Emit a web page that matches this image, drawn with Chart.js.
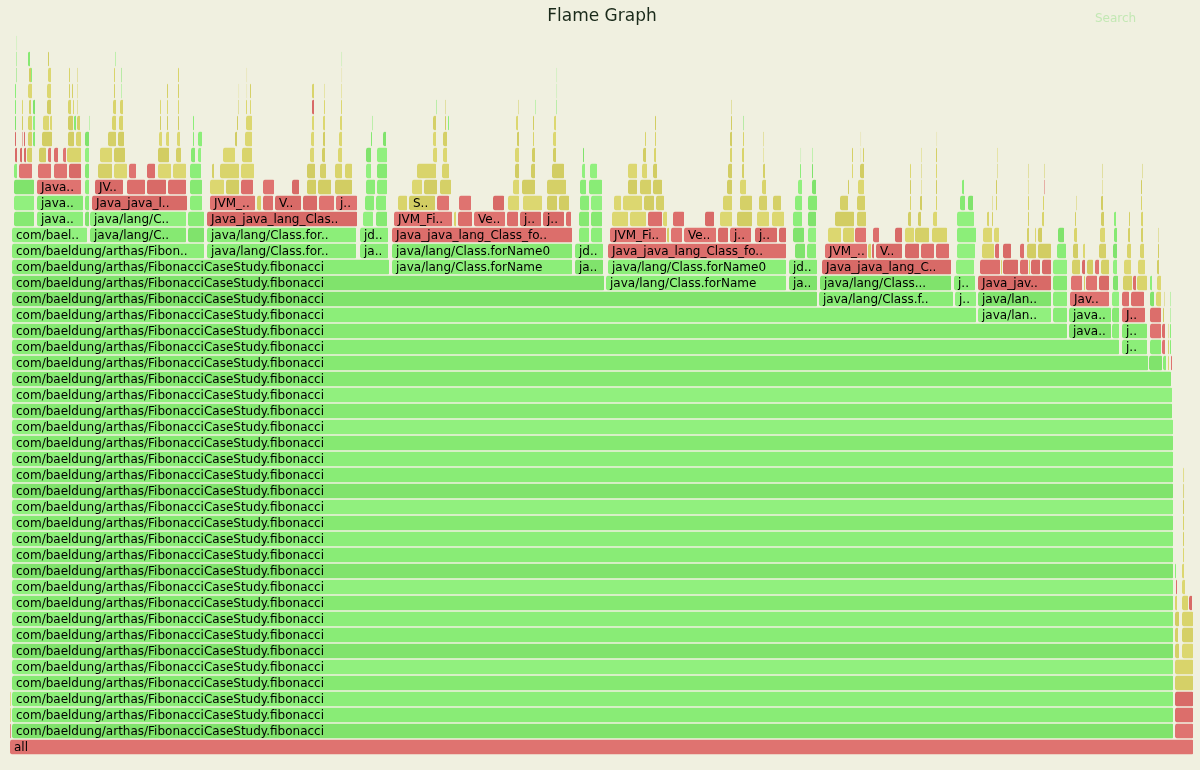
<!DOCTYPE html>
<html><head><meta charset="utf-8">
<script src="https://cdn.jsdelivr.net/npm/chart.js@4/dist/chart.umd.min.js"></script>
<style>html,body{margin:0;padding:0;background:#f0f0e0;}#wrap{width:1200px;height:770px;}</style>
</head><body><div id="wrap"><canvas id="c" width="1200" height="770"></canvas></div>
<script>
const chartTitle = 'Flame Graph';
const searchLabel = 'Search';
const totalSamples = 1184;
const maxDepth = 45;
const functionNames = [
  'all',
  'com/baeldung/arthas/FibonacciCaseStudy.fibonacci',
  'java/lang/Class.forName',
  'java/lang/Class.forName0',
  'Java_java_lang_Class_forName0',
  'java/lang/ClassLoader.loadClass',
  'jdk/internal/loader/ClassLoaders$AppClassLoader.loadClass',
  'JVM_FindClassFromCaller',
  'VerifyFixClassname',
  'jni_GetStringUTFLength',
  'jni_GetStringUTFRegion',
  'SystemDictionary::resolve_or_fail'
];
// frame kinds: J = Java, C = C++, N = native
// end sample of the fibonacci frame at depth 1..32 (each starts at sample 2)
const fibChainEnd = [1164,1164,1164,1164,1164,1164,1164,1164,1164,1164,1164,1164,1164,1164,1164,1164,1164,1164,1164,1164,1163,1163,1162,1139,1110,1058,967,808,595,380,195,78];

// [depth, startSample, endSample, kind, nameIndex(-1 = unreadable)]
const rootFrames = [
  [0,0,1184,'N',0],
  [1,0,1.5,'N',-1],[2,0,1.5,'C',-1],[3,0,1.5,'C',-1]
];
const otherThreadFrames = [
  [1,1165,1184,'N',-1],[2,1165,1184,'N',-1],[3,1165,1184,'N',-1],
  [4,1165,1184,'C',-1],[5,1165,1184,'C',-1],
  [6,1165,1170,'C',-1],[6,1172,1184,'C',-1],
  [7,1165,1169,'C',-1],[7,1172,1184,'C',-1],
  [8,1165,1170,'C',-1],[8,1172,1184,'C',-1],
  [9,1165,1168,'C',-1],[9,1172,1179,'C',-1],[9,1179,1183,'N',-1],
  [10,1166,1168,'N',-1],[10,1172,1176,'C',-1],
  [11,1165,1167,'J',-1],[11,1172,1175,'C',-1],
  [12,1173,1175,'C',-1],[13,1173,1175,'C',-1],[14,1173,1175,'C',-1],[15,1173,1175,'C',-1],[16,1173,1174.5,'C',-1],[17,1173,1174.5,'C',-1]
];
const leftColumnFrames = [
  [33,4,25,'J',1],[34,4,25,'J',1],[35,4,25,'J',1],
  [36,4,8,'J',-1],[36,9,23,'N',-1],
  [37,5,8,'N',-1],[37,10,13,'N',-1],[37,14,17,'N',-1],[37,17,23,'C',-1],
  [38,5,7,'N',-1],[38,12,13,'N',-1],[38,14,16,'N',-1],[38,18,23,'C',-1],[38,23,26,'J',-1],
  [39,5,7,'J',-1],[39,12,14,'C',-1],[39,18,23,'C',-1],[39,23,26,'J',-1],
  [40,5,7,'J',-1],[40,12,14,'C',-1],[40,19,22,'C',-1],[40,23,26,'J',-1],
  [41,5,7,'J',-1],[41,18,23,'C',-1],
  [42,6,7,'J',-1],[42,19,22,'C',-1],[42,21,23,'J',-1],
  [43,6,7,'J',-1],[43,18,21,'J',-1],
  [44,6.5,7.5,'J',-1]
];
const towerA = [
  [33,27,74,'J',2],[33,75,80,'J',5],
  [34,27,74,'J',3],[34,75,80,'J',6],
  [35,27,72,'N',4],[35,75,80,'J',-1],
  [36,28,42,'N',-1],[36,44,58,'N',-1],[36,59,72,'N',-1],[36,75,80,'J',-1],
  [37,29,37,'C',-1],[37,38,42,'N',-1],[37,44,49,'N',-1],[37,53,57,'N',-1],[37,57,72,'C',-1],[37,75,80,'J',-1],
  [38,32,43,'C',-1],[38,58,65,'C',-1],[38,66,72,'C',-1],[38,75,80,'J',-1],
  [39,33,40,'C',-1],[39,40,43,'C',-1],[39,58,64,'C',-1],[39,64,67,'J',-1],[39,67,71,'C',-1],[39,79,80,'J',-1],
  [40,37,42,'C',-1],[40,58,62,'C',-1],[40,63,65,'C',-1],[40,67,68,'C',-1],
  [41,37,42,'C',-1],[41,59,61,'C',-1],[41,62,64,'C',-1],[41,67,68,'C',-1],
  [42,38,42,'C',-1],[42,59,61,'C',-1],[42,67,68,'C',-1],
  [43,38,40,'C',-1]
];
const towerB = [
  [32,80,177,'J',2],[32,178,195,'J',5],
  [33,80,177,'J',3],[33,178,195,'J',6],
  [34,82,178,'N',4],[34,180,193,'J',-1],
  [35,85,114,'N',7],[35,117,136,'N',-1],[35,137,157,'N',-1],[35,158,177,'N',-1],[35,180,193,'J',-1],
  [36,88,103,'C',-1],[36,104,118,'C',-1],[36,119,127,'N',-1],[36,137,146,'N',-1],[36,148,162,'C',-1],[36,163,177,'C',-1],[36,180,192,'J',-1],
  [37,90,103,'C',-1],[37,104,116,'C',-1],[37,148,160,'C',-1],[37,166,172,'C',-1],[37,181,186,'J',-1],[37,188,192,'J',-1],
  [38,98,107,'C',-1],[38,108,115,'C',-1],[38,149,153,'C',-1],[38,156,160,'C',-1],[38,167,171,'C',-1],[38,183,185,'J',-1],[38,188,193,'J',-1],
  [39,102,107,'C',-1],[39,109,114,'C',-1],[39,150,152,'C',-1],[39,157,159,'C',-1],[39,168,170,'C',-1],[39,183,185,'J',-1],
  [40,103,107,'C',-1],[40,110,114,'C',-1],[40,150,152,'C',-1],[40,157,159,'C',-1],[40,168,170,'C',-1],
  [41,104,106,'C',-1],[41,111,112,'J',-1],[41,157,159,'C',-1],[41,168,170,'C',-1],
  [42,104,106,'C',-1],[42,111,112,'J',-1],[42,168,170,'C',-1],
  [43,105,106,'J',-1]
];
const towerC = [
  [31,197,347,'J',2],[31,350,379,'J',5],
  [32,197,347,'J',3],[32,350,379,'J',6],
  [33,197,348,'N',4],[33,353,364,'J',-1],[33,366,378,'J',-1],
  [34,200,246,'N',7],[34,247,252,'C',-1],[34,253,264,'N',-1],[34,265,292,'N',8],[34,293,308,'N',-1],[34,309,325,'N',-1],[34,326,348,'N',9],[34,355,365,'J',-1],[34,366,377,'J',-1],
  [35,200,215,'C',-1],[35,216,230,'C',-1],[35,231,244,'N',-1],[35,253,265,'N',-1],[35,282,290,'N',-1],[35,297,307,'C',-1],[35,308,322,'C',-1],[35,325,343,'C',-1],[35,356,366,'J',-1],[35,367,378,'J',-1],
  [36,202,205,'C',-1],[36,210,230,'C',-1],[36,231,245,'C',-1],[36,297,306,'C',-1],[36,310,317,'C',-1],[36,325,333,'C',-1],[36,335,343,'C',-1],[36,356,362,'J',-1],[36,367,378,'J',-1],
  [37,213,226,'C',-1],[37,232,243,'C',-1],[37,300,305,'C',-1],[37,312,316,'C',-1],[37,328,333,'C',-1],[37,356,362,'J',-1],[37,367,378,'J',-1],
  [38,225,228,'C',-1],[38,235,243,'C',-1],[38,301,305,'C',-1],[38,313,316,'C',-1],[38,329,333,'C',-1],[38,361,363,'J',-1],[38,373,377,'J',-1],
  [39,227,229,'C',-1],[39,236,243,'C',-1],[39,302,305,'C',-1],[39,313,316,'C',-1],[39,330,333,'C',-1],[39,362,363,'J',-1],
  [40,228,229,'C',-1],[40,236,238,'C',-1],[40,240,242,'C',-1],[40,302,305,'N',-1],[40,314,316,'C',-1],[40,331,333,'C',-1],
  [41,228.5,229.5,'C',-1],[41,236.5,237.5,'C',-1],[41,240,242,'C',-1],[41,302,305,'C',-1],[41,314,315,'C',-1],[41,331,332,'C',-1],
  [42,236.5,237.5,'C',-1],[42,331.5,332.5,'C',-1],
  [43,331.5,332.5,'J',-1]
];
const towerD = [
  [30,382,563,'J',2],[30,565,594,'J',5],
  [31,382,563,'J',3],[31,565,594,'J',6],
  [32,382,563,'N',4],[32,569,580,'J',-1],[32,581,593,'J',-1],
  [33,384,443,'N',7],[33,444,447,'C',-1],[33,448,463,'N',-1],[33,464,496,'N',8],[33,497,509,'N',-1],[33,510,532,'N',9],[33,533,555,'N',10],[33,556,562,'N',-1],[33,569,580,'J',-1],[33,581,593,'J',-1],
  [34,388,398,'C',-1],[34,399,426,'C',11],[34,427,440,'N',-1],[34,449,462,'N',-1],[34,483,495,'N',-1],[34,498,510,'C',-1],[34,513,533,'C',-1],[34,537,548,'C',-1],[34,549,560,'C',-1],[34,570,580,'J',-1],[34,581,593,'J',-1],
  [35,402,413,'C',-1],[35,414,428,'C',-1],[35,430,442,'C',-1],[35,503,510,'C',-1],[35,512,526,'C',-1],[35,537,557,'C',-1],[35,570,577,'J',-1],[35,579,593,'J',-1],
  [36,407,427,'C',-1],[36,432,440,'C',-1],[36,505,510,'C',-1],[36,521,526,'C',-1],[36,542,555,'C',-1],[36,572,576,'J',-1],[36,580,588,'J',-1],
  [37,423,428,'C',-1],[37,433,438,'C',-1],[37,505,510,'C',-1],[37,522,526,'C',-1],[37,543,547,'C',-1],[37,573,575,'J',-1],
  [38,423,427,'C',-1],[38,433,438,'C',-1],[38,507,510,'C',-1],[38,523,525,'C',-1],[38,543,547,'C',-1],
  [39,423,427,'C',-1],[39,435,437,'C',-1],[39,438,440,'J',-1],[39,506,509,'C',-1],[39,523,525,'C',-1],[39,544,547,'C',-1],
  [40,426,427,'J',-1],[40,435,436,'C',-1],[40,508,509,'C',-1],[40,525,526,'J',-1],[40,546,547,'J',-1],
  [41,546.5,547.5,'J',-1],[42,546.5,547.5,'J',-1]
];
const towerE = [
  [29,596,777,'J',2],[29,779,808,'J',5],
  [30,598,777,'J',3],[30,779,808,'J',6],
  [31,598,777,'N',4],[31,785,796,'J',-1],[31,797,807,'J',-1],
  [32,600,657,'N',7],[32,657,660,'C',-1],[32,661,673,'N',-1],[32,674,707,'N',8],[32,708,719,'N',-1],[32,720,742,'N',9],[32,745,768,'N',10],[32,769,777,'N',-1],[32,783,795,'J',-1],[32,798,807,'J',-1],
  [33,602,619,'C',-1],[33,620,637,'C',-1],[33,638,653,'N',-1],[33,653,658,'C',-1],[33,663,675,'N',-1],[33,695,705,'N',-1],[33,710,723,'C',-1],[33,727,743,'C',-1],[33,747,760,'C',-1],[33,762,775,'C',-1],[33,783,793,'J',-1],[33,798,807,'J',-1],
  [34,604,612,'C',-1],[34,613,633,'C',-1],[34,634,645,'C',-1],[34,646,655,'C',-1],[34,713,723,'C',-1],[34,730,743,'C',-1],[34,749,758,'C',-1],[34,763,772,'C',-1],[34,785,793,'J',-1],[34,798,808,'J',-1],
  [35,618,628,'C',-1],[35,630,642,'C',-1],[35,643,653,'C',-1],[35,717,723,'C',-1],[35,730,737,'C',-1],[35,752,757,'C',-1],[35,788,793,'J',-1],[35,802,807,'J',-1],
  [36,618,628,'C',-1],[36,632,638,'C',-1],[36,643,648,'C',-1],[36,718,723,'C',-1],[36,732,735,'C',-1],[36,753,756,'C',-1],[36,790,792,'J',-1],[36,802,804,'J',-1],
  [37,633,637,'C',-1],[37,644,647,'C',-1],[37,720,723,'C',-1],[37,732,735,'C',-1],[37,753,754,'C',-1],[37,790.5,791.5,'J',-1],[37,802,803,'J',-1],
  [38,635,637,'C',-1],[38,645,647,'C',-1],[38,720,723,'C',-1],[38,733,735,'C',-1],[38,753,754,'C',-1],
  [39,645,647,'C',-1],[39,721,723,'C',-1],[39,733,734,'J',-1],
  [40,721,722,'C',-1]
];
const towerF = [
  [28,809,944,'J',2],[28,945,967,'J',5],
  [29,810,942,'J',3],[29,944,966,'J',6],
  [30,812,942,'N',4],[30,946,965,'J',-1],
  [31,815,858,'N',7],[31,858,862,'C',-1],[31,862,865,'N',-1],[31,866,893,'N',8],[31,895,910,'N',-1],[31,911,925,'N',-1],[31,926,940,'N',-1],[31,947,966,'J',-1],
  [32,818,832,'C',-1],[32,833,845,'C',-1],[32,845,857,'N',-1],[32,863,870,'N',-1],[32,885,893,'N',-1],[32,895,905,'C',-1],[32,905,920,'C',-1],[32,922,938,'C',-1],[32,947,967,'J',-1],
  [33,825,845,'C',-1],[33,847,857,'C',-1],[33,898,902,'C',-1],[33,908,912,'C',-1],[33,923,928,'C',-1],[33,947,965,'J',-1],
  [34,830,839,'C',-1],[34,847,856,'C',-1],[34,900,902,'C',-1],[34,910,913,'C',-1],[34,926,928,'C',-1],[34,950,956,'J',-1],[34,958,964,'J',-1],
  [35,838,840,'C',-1],[35,848,855,'C',-1],[35,900,902,'C',-1],[35,911,912,'C',-1],[35,926,928,'C',-1],[35,952,955,'J',-1],
  [36,842,844,'C',-1],[36,850,855,'C',-1],[36,900,902,'C',-1],[36,911,912,'C',-1],[36,926,928,'C',-1],
  [37,842,844,'C',-1],[37,850.5,851.5,'C',-1],[37,853,855,'C',-1],[37,911,912,'C',-1],[37,926,928,'C',-1],
  [38,850.5,851.5,'C',-1],[38,926.5,927.5,'C',-1]
];
const towerG = [
  [27,968,1042,'J',2],[28,968,1042,'J',3],[29,968,1042,'N',4],
  [27,1043,1058,'J',-1],[28,1043,1058,'J',-1],[29,1043,1058,'J',-1],[30,1043,1058,'J',-1],[31,1047,1057,'J',-1],[32,1048,1055,'J',-1],
  [30,970,991,'N',-1],[30,991,993,'C',-1],[30,993,1009,'N',-1],[30,1010,1019,'N',-1],[30,1019,1021,'C',-1],[30,1021,1031,'N',-1],[30,1032,1042,'N',-1],
  [31,972,985,'C',-1],[31,985,990,'N',-1],[31,993,1002,'N',-1],[31,1010,1015,'N',-1],[31,1017,1027,'C',-1],[31,1028,1042,'C',-1],
  [32,973,983,'C',-1],[32,984,990,'C',-1],[32,1017,1020,'C',-1],[32,1025,1027,'C',-1],[32,1028,1033,'C',-1],
  [33,977,980,'C',-1],[33,982,984,'C',-1],[33,1018,1020,'C',-1],[33,1032,1035,'C',-1],
  [34,982,983,'C',-1],[34,986,988,'C',-1],[34,1018,1020,'C',-1],[34,1033,1035,'C',-1],
  [35,986,988,'C',-1],[35,1018,1019,'C',-1],[35,1034,1035,'N',-1],
  [36,987,988,'C',-1],[36,1018,1019,'C',-1],[36,1034,1035,'C',-1],
  [37,987,988,'C',-1]
];
const towerH = [
  [26,1059,1102,'J',2],[27,1059,1102,'J',3],[28,1060,1100,'N',4],
  [26,1102,1110,'J',-1],[27,1102,1110,'J',-1],[28,1102,1110,'J',-1],
  [29,1103,1109,'J',-1],[30,1103,1108,'J',-1],[31,1103,1108,'J',-1],[32,1104,1108,'J',-1],[33,1104,1107,'J',-1],
  [29,1061,1073,'N',-1],[29,1074,1076,'C',-1],[29,1076,1088,'N',-1],[29,1089,1100,'N',-1],
  [30,1062,1071,'C',-1],[30,1072,1076,'N',-1],[30,1077,1084,'C',-1],[30,1085,1090,'N',-1],[30,1091,1100,'C',-1],
  [31,1063,1069,'C',-1],[31,1073,1076,'C',-1],[31,1089,1097,'C',-1],
  [32,1064,1068,'C',-1],[32,1090,1096,'C',-1],
  [33,1065,1067,'C',-1],[33,1091,1095,'C',-1],
  [34,1066,1067,'C',-1],[34,1091,1094,'C',-1],
  [35,1092,1093,'C',-1],[36,1092,1093,'C',-1]
];
const towerI = [
  [25,1112,1138,'J',2],[26,1112,1138,'J',3],[27,1112,1136,'N',4],
  [28,1112,1120,'N',-1],[28,1121,1135,'N',-1],
  [29,1113,1123,'C',-1],[29,1123,1127,'N',-1],[29,1127,1138,'C',-1],
  [30,1114,1122,'C',-1],[30,1128,1136,'C',-1],
  [31,1117,1122,'C',-1],[31,1130,1135,'C',-1],
  [32,1118,1121,'C',-1],[32,1131,1134,'C',-1],
  [33,1119,1121,'C',-1],[33,1131,1134,'C',-1],
  [34,1131,1133,'C',-1],[35,1131,1133,'C',-1],[36,1132,1133,'C',-1]
];
const towerJK = [
  [24,1139,1153,'J',-1],[25,1140,1152,'J',-1],[26,1140,1152,'N',-1],[27,1140,1152,'N',-1],
  [28,1140,1145,'J',-1],[28,1146,1152,'C',-1],
  [29,1140,1143,'J',-1],[29,1147,1152,'C',-1],
  [30,1147,1150,'C',-1],[31,1148,1150,'C',-1],[32,1148,1149,'C',-1],
  [24,1153,1157,'J',-1],[25,1152,1156,'N',-1],[26,1152,1156,'N',-1],[27,1153,1155,'C',-1],[28,1154,1155,'C',-1],
  [24,1158,1160,'C',-1],[24,1161,1163,'N',-1],[25,1158,1160,'C',-1],[26,1158,1159,'C',-1],
  [25,1160,1162,'J',-1],[26,1160,1162,'J',-1],[27,1160,1161,'J',-1],[28,1160,1161,'J',-1]
];

// ---- build the table for the library ----
const palette = {
  J: ['#8cee79','#86e972','#91f07e','#80e36c','#89ec76'],
  C: ['#d9d46b','#d5d067','#dcd770','#d2cd63'],
  N: ['#dc6e6b','#d86a67','#df7370']
};
const allFrames = [].concat(
  rootFrames,
  fibChainEnd.map((end, i) => [i + 1, 2, end, 'J', 1]),
  otherThreadFrames, leftColumnFrames,
  towerA, towerB, towerC, towerD, towerE, towerF, towerG, towerH, towerI, towerJK
);
const points = allFrames.map(f => ({
  y: f[0], x: [f[1], f[2]], kind: f[3], name: f[4] >= 0 ? functionNames[f[4]] : ''
}));
function shade(p) {
  const pal = palette[p.kind];
  const h = Math.abs(Math.round(p.y * 31 + p.x[0] * 17 + p.x[1] * 7));
  return pal[h % pal.length];
}

const BG = '#f0f0e0';
const chromePlugin = {
  id: 'chrome',
  beforeDraw(chart) {
    const c = chart.ctx;
    c.save(); c.fillStyle = BG; c.fillRect(0, 0, chart.width, chart.height); c.restore();
  },
  afterDraw(chart) {
    const c = chart.ctx;
    c.save();
    c.fillStyle = '#1a2a1a';
    c.font = "17px 'DejaVu Sans'";
    c.textAlign = 'center';
    c.textBaseline = 'alphabetic';
    c.fillText(chartTitle, 602, 21);
    c.font = "12px 'DejaVu Sans'";
    c.textAlign = 'left';
    c.fillStyle = '#c3e8b4';
    c.fillText(searchLabel, 1095, 22);
    c.restore();
  }
};
const labelPlugin = {
  id: 'frameLabels',
  afterDatasetsDraw(chart) {
    const c = chart.ctx;
    const meta = chart.getDatasetMeta(0);
    const data = chart.data.datasets[0].data;
    c.save();
    c.font = "12px 'DejaVu Sans'";
    c.fillStyle = '#000';
    c.textAlign = 'left';
    c.textBaseline = 'alphabetic';
    meta.data.forEach((el, i) => {
      const name = data[i].name;
      if (!name) return;
      const left = Math.min(el.x, el.base);
      const w = Math.abs(el.x - el.base);
      const chars = Math.floor(w / 7.08);
      if (chars < 3) return;
      const text = name.length > chars ? name.slice(0, chars - 2) + '..' : name;
      c.fillText(text, left + 4, el.y + 3.5);
    });
    c.restore();
  }
};

new Chart(document.getElementById('c'), {
  type: 'bar',
  data: {
    datasets: [{
      data: points,
      backgroundColor: ctx => ctx.raw ? shade(ctx.raw) : '#8cee79',
      borderColor: 'rgba(240,240,224,0.85)',
      borderWidth: {left: 0, right: 1, top: 0, bottom: 0},
      borderSkipped: false,
      borderRadius: 2,
      inflateAmount: 0,
      barThickness: 15
    }]
  },
  options: {
    indexAxis: 'y',
    responsive: false,
    devicePixelRatio: 1,
    animation: false,
    events: [],
    layout: {padding: {left: 10, right: 6, top: 19, bottom: 15}},
    scales: {
      x: {type: 'linear', min: 0, max: totalSamples, display: false, bounds: 'data'},
      y: {type: 'linear', min: -0.5, max: maxDepth + 0.5, display: false, offset: false, bounds: 'data'}
    },
    plugins: {legend: {display: false}, tooltip: {enabled: false}, title: {display: false}}
  },
  plugins: [chromePlugin, labelPlugin]
});
</script>
</body></html>
